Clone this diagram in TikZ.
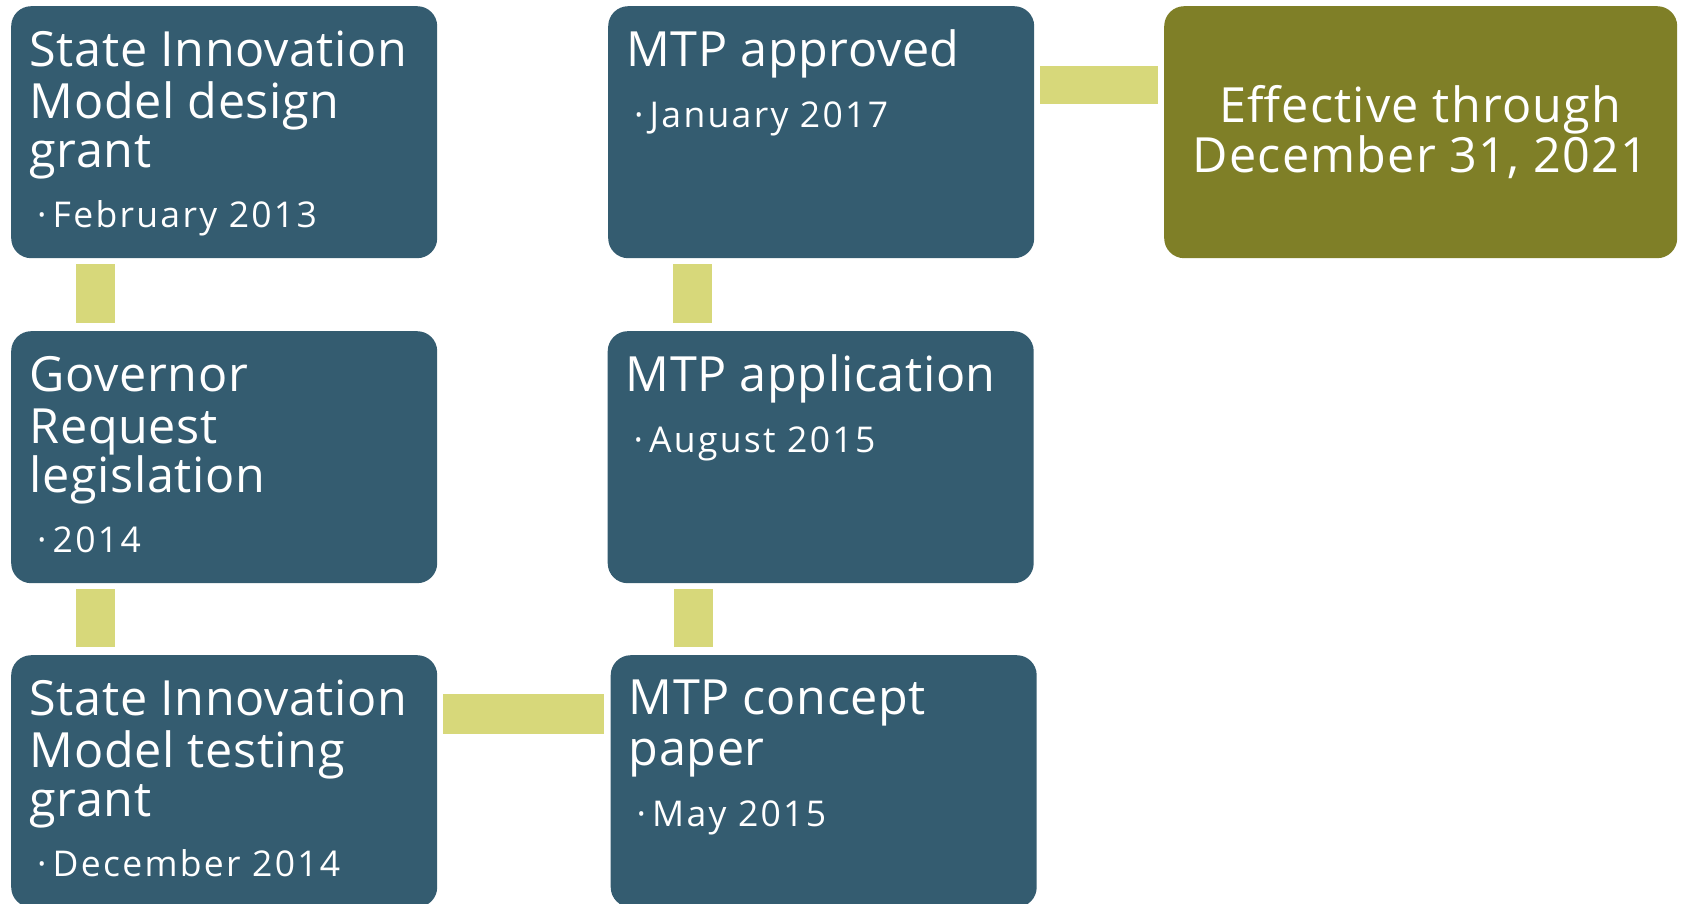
\documentclass[tikz,border=0pt]{standalone}
\usepackage{fontspec}
\setmainfont{Open Sans}
\newfontfamily\ttlfam[LetterSpace=1.3]{Open Sans}
\newfontfamily\subfam[LetterSpace=6.5]{Open Sans}
\newfontfamily\effam[LetterSpace=2.5]{Open Sans}
\usetikzlibrary{calc}
\definecolor{boxblue}{HTML}{345C70}
\definecolor{oliveboxc}{HTML}{7F7F27}
\definecolor{linkgreen}{HTML}{D7D87A}
\newcommand{\ttlfnt}{\ttlfam\fontsize{48.5}{50}\selectfont}
\newcommand{\effnt}{\effam\fontsize{48.5}{50}\selectfont}
\newcommand{\subfnt}{\subfam\fontsize{35.5}{40}\selectfont}
\newcommand{\bul}{\llap{\textperiodcentered\hspace{6.2pt}}}
\tikzset{
  box/.style={rounded corners=20pt, fill=boxblue, draw=none, minimum width=426pt,
    minimum height=252pt, anchor=north west, inner sep=0pt},
  ttl/.style={anchor=base west, inner sep=0pt, text=white, font=\ttlfnt},
  ctl/.style={anchor=base, inner sep=0pt, text=white, font=\effnt},
  subl/.style={anchor=base west, inner sep=0pt, text=white, font=\subfnt},
  link/.style={draw=linkgreen, line width=39pt}
}
\begin{document}
\begin{tikzpicture}[x=1pt,y=-1pt]
\useasboundingbox (0,0) rectangle (1683,904);
\clip (0,0) rectangle (1683,904);
% boxes
\node[box] (sim1) at (11,6) {};
\node[box] (gov) at (11,331) {};
\node[box] (sim2) at (11,655) {};
\node[box] (appr) at (608,6) {};
\node[box] (appl) at (607.5,331) {};
\node[box] (conc) at (610.5,655) {};
\node[box, fill=oliveboxc, minimum width=513pt] (eff) at (1164,6) {};
% connectors
\draw[link] ($(sim1.south west)+(84.5,6)$) -- ($(gov.north west)+(84.5,-8)$);
\draw[link] ($(gov.south west)+(84.5,6)$) -- ($(sim2.north west)+(84.5,-8)$);
\draw[link, line width=40pt] ($(sim2.north east)+(6,59)$) -- ($(conc.north west)+(-6.5,59)$);
\draw[link] ($(conc.north west)+(83,-8)$) -- ($(appl.south west)+(86,6)$);
\draw[link] ($(appl.north west)+(85,-8)$) -- ($(appr.south west)+(84.5,6)$);
\draw[link, line width=38pt] ($(appr.north east)+(6,79)$) -- ($(eff.north west)+(-6,79)$);
% texts: box 1
\node[ttl] (s1a) at (29.5,66.7) {State Innovation};
\node[ttl] (s1b) at (29.5,118.3) {Model design};
\node[ttl] (s1c) at (29.5,167.7) {grant};
\node[subl] (s1d) at (52.5,227.3) {\bul February 2013};
% box 2
\node[ttl] (g1a) at (29.5,391.7) {Governor};
\node[ttl] (g1b) at (29.5,443.3) {Request};
\node[ttl] (g1c) at (29.5,492.7) {legislation};
\node[subl] (g1d) at (52.5,552.3) {\bul 2014};
% box 3
\node[ttl] (s2a) at (29.5,715.7) {State Innovation};
\node[ttl] (s2b) at (29.5,767.3) {Model testing};
\node[ttl] (s2c) at (29.5,816.7) {grant};
\node[subl] (s2d) at (52.5,876.3) {\bul December 2014};
% concept
\node[ttl] (c1a) at (628.5,714.5) {MTP concept};
\node[ttl] (c1b) at (628.5,765) {paper};
\node[subl] (c1d) at (652,826.7) {\bul May 2015};
% application
\node[ttl] (a1a) at (625.5,391) {MTP application};
\node[subl] (a1d) at (649,452) {\bul August 2015};
% approved
\node[ttl] (p1a) at (626,66.5) {MTP approved};
\node[subl] (p1d) at (649.5,127.7) {\bul January 2017};
% effective
\node[ctl] (e1a) at (1420.5,122.5) {Effective through};
\node[ctl] (e1b) at (1420.5,173) {December 31, 2021};
\end{tikzpicture}
\end{document}
